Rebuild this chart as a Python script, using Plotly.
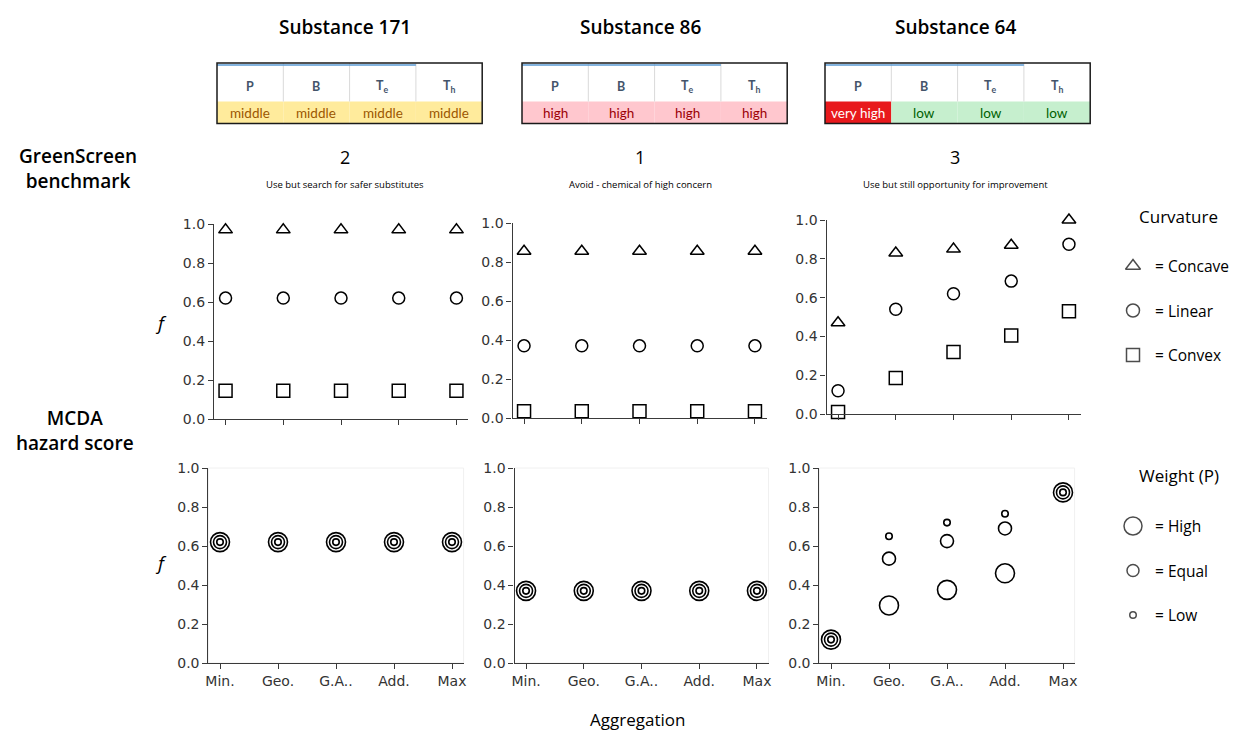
import plotly.graph_objects as go

# ---------------- data ----------------
aggregations = ["Min.", "Geo.", "G.A..", "Add.", "Max"]
substances = ["Substance 171", "Substance 86", "Substance 64"]
benchmark_scores = ["2", "1", "3"]
benchmark_texts = ["Use but search for safer substitutes",
                   "Avoid - chemical of high concern",
                   "Use but still opportunity for improvement"]
criteria = ["P", "B", "T<sub>e</sub>", "T<sub>h</sub>"]
levels_171 = ["middle", "middle", "middle", "middle"]
levels_86 = ["high", "high", "high", "high"]
levels_64 = ["very high", "low", "low", "low"]

# GreenScreen benchmark row (curvature)
s171_concave = [0.97, 0.97, 0.97, 0.97, 0.97]
s171_linear = [0.62, 0.62, 0.62, 0.62, 0.62]
s171_convex = [0.145, 0.145, 0.145, 0.145, 0.145]
s86_concave = [0.855, 0.855, 0.855, 0.855, 0.855]
s86_linear = [0.37, 0.37, 0.37, 0.37, 0.37]
s86_convex = [0.035, 0.035, 0.035, 0.035, 0.035]
s64_concave = [0.47, 0.83, 0.85, 0.87, 1.0]
s64_linear = [0.12, 0.54, 0.62, 0.685, 0.875]
s64_convex = [0.01, 0.185, 0.32, 0.405, 0.53]

# MCDA hazard score row (weight of P)
s171_high = [0.62, 0.62, 0.62, 0.62, 0.62]
s171_equal = [0.62, 0.62, 0.62, 0.62, 0.62]
s171_low = [0.62, 0.62, 0.62, 0.62, 0.62]
s86_high = [0.37, 0.37, 0.37, 0.37, 0.37]
s86_equal = [0.37, 0.37, 0.37, 0.37, 0.37]
s86_low = [0.37, 0.37, 0.37, 0.37, 0.37]
s64_high = [0.12, 0.295, 0.375, 0.46, 0.875]
s64_equal = [0.12, 0.535, 0.625, 0.69, 0.875]
s64_low = [0.12, 0.65, 0.72, 0.765, 0.875]

curv_labels = ["= Concave", "= Linear", "= Convex"]
weight_labels = ["= High", "= Equal", "= Low"]
y_ticks = [0.0, 0.2, 0.4, 0.6, 0.8, 1.0]

# ---------------- styling ----------------
W, H = 1235, 732
def fx(p): return min(max(p / W, 0), 1)
def fy(p): return min(max(1 - p / H, 0), 1)

TITLE_FONT = "Open Sans"
TICK_FONT = "DejaVu Sans"
AX_COL = "#3a3a3a"

level_style = {
    "middle": ("#FFEB9C", "#9C5700"),
    "high": ("#FFC7CE", "#9C0006"),
    "very high": ("#E8191C", "#FFFFFF"),
    "low": ("#C6EFCE", "#006100"),
}

panels = [  # pixel geometry: x0, x1, ytop, ybot
    (214, 468, 224, 419),
    (512.5, 766.5, 223, 418),
    (826.5, 1080.5, 220, 414),
    (208.4, 463.6, 468, 663),
    (514.5, 768.5, 468, 663),
    (819.4, 1074.6, 468, 663),
]

fig = go.Figure()
layout = dict(width=W, height=H, margin=dict(l=0, r=0, t=0, b=0, pad=0, autoexpand=False),
              paper_bgcolor="white", plot_bgcolor="white", showlegend=False)

for i, (x0, x1, yt, yb) in enumerate(panels):
    n = i + 1
    xs = "" if n == 1 else str(n)
    bottom = i >= 3
    layout["xaxis" + xs] = dict(
        domain=[fx(x0), fx(x1)], anchor="y" + xs, type="category", automargin=False,
        categoryorder="array", categoryarray=aggregations, range=[-0.2, 4.2],
        showline=True, linecolor=AX_COL, linewidth=1.2, ticks="outside",
        ticklen=5, tickwidth=1.2, tickcolor=AX_COL, showgrid=False, zeroline=False,
        showticklabels=bottom, tickfont=dict(family=TICK_FONT, size=14, color="#333"),
    )
    layout["yaxis" + xs] = dict(
        domain=[fy(yb), fy(yt)], anchor="x" + xs, range=[0, 1], automargin=False,
        tickvals=y_ticks, tickformat=".1f",
        showline=True, linecolor=AX_COL, linewidth=1.2, ticks="outside",
        ticklen=5, tickwidth=1.2, tickcolor=AX_COL, showgrid=False, zeroline=False,
        tickfont=dict(family=TICK_FONT, size=14, color="#333"),
    )

top_sets = [(s171_concave, s171_linear, s171_convex),
            (s86_concave, s86_linear, s86_convex),
            (s64_concave, s64_linear, s64_convex)]
bot_sets = [(s171_high, s171_equal, s171_low),
            (s86_high, s86_equal, s86_low),
            (s64_high, s64_equal, s64_low)]
curv_symbols = ["triangle-up-open", "circle-open", "square-open"]
curv_sizes = [12, 12, 13]
weight_sizes = [19, 13, 6.5]

for i, sets in enumerate(top_sets):
    xs = "" if i == 0 else str(i + 1)
    for vals, sym, sz in zip(sets, curv_symbols, curv_sizes):
        fig.add_trace(go.Scatter(
            x=aggregations, y=vals, mode="markers", xaxis="x" + xs, yaxis="y" + xs,
            cliponaxis=False,
            marker=dict(symbol=sym, size=sz, color="black", line=dict(color="black", width=1.5))))

for i, sets in enumerate(bot_sets):
    xs = str(i + 4)
    for vals, sz in zip(sets, weight_sizes):
        fig.add_trace(go.Scatter(
            x=aggregations, y=vals, mode="markers", xaxis="x" + xs, yaxis="y" + xs,
            cliponaxis=False,
            marker=dict(symbol="circle-open", size=sz, color="black", line=dict(color="black", width=1.6))))

# ---- legend axes (10 px per unit, marker at x=0) ----
layout["xaxis7"] = dict(domain=[fx(1123), fx(1223)], range=[-1, 9], visible=False, anchor="y7", automargin=False)
layout["yaxis7"] = dict(domain=[fy(377.25), fy(243.75)], range=[2.5, -0.5], visible=False, anchor="x7", automargin=False)
layout["xaxis8"] = dict(domain=[fx(1123), fx(1223)], range=[-1, 9], visible=False, anchor="y8", automargin=False)
layout["yaxis8"] = dict(domain=[fy(637.25), fy(503.75)], range=[2.5, -0.5], visible=False, anchor="x8", automargin=False)

fig.add_trace(go.Scatter(x=[0, 0, 0], y=[0, 1, 2], mode="markers", xaxis="x7", yaxis="y7",
                         cliponaxis=False,
                         marker=dict(symbol=curv_symbols, size=[13, 13, 13], color="black",
                                     line=dict(color="black", width=1.5))))
fig.add_trace(go.Scatter(x=[0, 0, 0], y=[0, 1, 2], mode="markers", xaxis="x8", yaxis="y8",
                         cliponaxis=False,
                         marker=dict(symbol="circle-open", size=[18, 12, 6.5], color="black",
                                     line=dict(color="black", width=1.5))))

annotations = []
shapes = []

def ann(x, y, text, size, xref="paper", yref="paper", xanchor="center", **fkw):
    f = dict(family=fkw.pop("family", TITLE_FONT), size=size, color=fkw.pop("color", "black"))
    f.update(fkw)
    annotations.append(dict(x=x, y=y, xref=xref, yref=yref, text=text, showarrow=False,
                            xanchor=xanchor, yanchor="middle", align="center", font=f))

for j, lab in enumerate(curv_labels):
    ann(2, j, lab, 15.5, xref="x7", yref="y7", xanchor="left")
for j, lab in enumerate(weight_labels):
    ann(2, j, lab, 15.5, xref="x8", yref="y8", xanchor="left")
ann(fx(1178), fy(217), "Curvature", 17)
ann(fx(1179), fy(475), "Weight (P)", 17)

# ---- row labels, axis labels ----
ann(fx(78), fy(169), "GreenScreen<br>benchmark", 19, weight=600)
ann(fx(75), fy(430), "MCDA<br>hazard score", 19, weight=600)
for py in (323, 563):
    ann(fx(161), fy(py), "<i>f</i>", 19)
ann(fx(637), fy(719), "Aggregation", 17)

# ---- substance titles, benchmarks and tables ----
centers = [345, 640, 955]
table_left = [217, 522, 825]
col_w = 66.3
t_top, t_mid, t_bot = 63, 101.5, 123.5
all_levels = [levels_171, levels_86, levels_64]
for k in range(3):
    cx = centers[k]
    ann(fx(cx), fy(27), substances[k], 19, weight=600)
    ann(fx(cx), fy(157), benchmark_scores[k], 18)
    ann(fx(cx), fy(184), benchmark_texts[k], 9.5)
    L = table_left[k]
    for c in range(4):
        cx0 = L + c * col_w
        cx1 = cx0 + col_w
        fill, tcol = level_style[all_levels[k][c]]
        shapes.append(dict(type="rect", xref="paper", yref="paper", x0=fx(cx0), x1=fx(cx1),
                           y0=fy(t_bot), y1=fy(t_mid), fillcolor=fill, line=dict(width=0), layer="below"))
        if c > 0:
            shapes.append(dict(type="line", xref="paper", yref="paper", x0=fx(cx0), x1=fx(cx0),
                               y0=fy(t_mid), y1=fy(t_top), line=dict(color="#d9d9d9", width=1)))
        ann(fx(cx0 + col_w / 2), fy(86), criteria[c], 12.5, family="Lato", color="#44546A", weight=700)
        ann(fx(cx0 + col_w / 2), fy(113), all_levels[k][c], 13.5, family="Lato", color=tcol)
    shapes.append(dict(type="line", xref="paper", yref="paper", x0=fx(L), x1=fx(L + 3 * col_w),
                       y0=fy(65), y1=fy(65), line=dict(color="#5B9BD5", width=1.5)))
    shapes.append(dict(type="rect", xref="paper", yref="paper", x0=fx(L), x1=fx(L + 4 * col_w),
                       y0=fy(t_bot), y1=fy(t_top), line=dict(color="#1a1a1a", width=1.5)))

# faint frame on the MCDA panels
for n in (4, 5, 6):
    shapes.append(dict(type="rect", xref=f"x{n} domain", yref=f"y{n} domain", x0=0, x1=1, y0=0, y1=1,
                       line=dict(color="#f0f0f0", width=1), layer="below"))

layout["annotations"] = annotations
layout["shapes"] = shapes
fig.update_layout(**layout)
fig.write_html("out.html", config={"displayModeBar": False},
               post_script="document.body.style.margin='0';document.body.style.padding='0';"
                           "document.body.style.overflow='hidden';")
